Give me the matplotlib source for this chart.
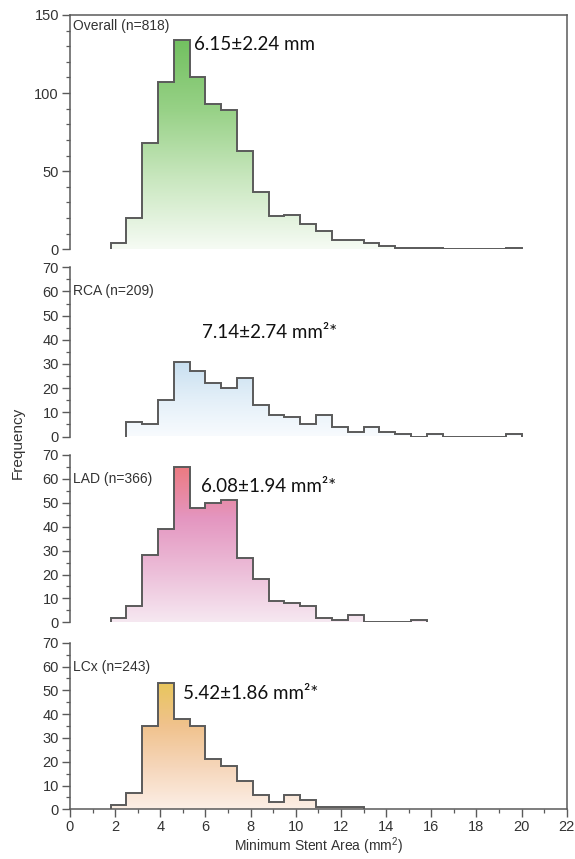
import numpy as np
import matplotlib.pyplot as plt
from matplotlib.colors import LinearSegmentedColormap
from matplotlib.lines import Line2D
from matplotlib.ticker import MultipleLocator

# Minimum stent area histograms (0.7 mm^2 bins)
bin_width = 0.7

overall_start = 1.8
overall_counts = [4, 20, 68, 107, 134, 110, 93, 89, 63, 37, 21, 22, 16,
                  12, 6, 6, 4, 2, 1, 1, 1, 0, 0, 0, 0, 1]

rca_start = 2.5
rca_counts = [6, 5, 15, 31, 27, 22, 20, 24, 13, 9, 8, 5, 9,
              4, 2, 4, 2, 1, 0, 1, 0, 0, 0, 0, 1]

lad_start = 1.8
lad_counts = [2, 7, 28, 39, 65, 48, 50, 51, 27, 18, 9, 8, 7,
              2, 1, 3, 0, 0, 0, 1]

lcx_start = 1.8
lcx_counts = [2, 7, 35, 53, 38, 35, 21, 18, 12, 6, 3, 6, 4, 1, 1, 1]

panel_names = ["Overall (n=818)", "RCA (n=209)", "LAD (n=366)", "LCx (n=243)"]
panel_stats = ["6.15\u00b12.24 mm", "7.14\u00b12.74 mm\u00b2*",
               "6.08\u00b11.94 mm\u00b2*", "5.42\u00b11.86 mm\u00b2*"]

plt.rcParams['font.family'] = ['Liberation Sans', 'DejaVu Sans']
plt.rcParams['mathtext.default'] = 'regular'

W, H = 575, 859
fig = plt.figure(figsize=(W / 100, H / 100), dpi=100)

x_left, x_right = 70, 566.7
# (top pixel, zero pixel, y max, major step, minor step)
layout = [
    (15.0, 249.3, 150, 50, 10),
    (267.3, 436.5, 70, 10, 5),
    (455.0, 622.3, 70, 10, 5),
    (642.7, 809.3, 70, 10, 5),
]
# stat text placement: (x, y) in data units
stat_pos = [(5.5, 131), (5.85, 43), (5.8, 57), (5.0, 48.5)]

gradients = [
    ['#f6fbf4', '#c9e7bf', '#97d186', '#72c060'],
    ['#f8fbfe', '#e3eff8', '#c8dff0'],
    ['#f6e8f1', '#ecbdd8', '#e496c0', '#ec7a80'],
    ['#fcefe6', '#f6d6ba', '#f0c28c', '#e8c65c'],
]

series = [
    (overall_start, overall_counts),
    (rca_start, rca_counts),
    (lad_start, lad_counts),
    (lcx_start, lcx_counts),
]

line_col = '#5a5a5a'
text_col = '#333333'

axes = []
for i, ((top, zero, ymax, major, minor), (start, counts)) in enumerate(zip(layout, series)):
    ax = fig.add_axes([x_left / W, 1 - zero / H, (x_right - x_left) / W, (zero - top) / H])
    axes.append(ax)
    counts = np.asarray(counts, dtype=float)
    edges = start + bin_width * np.arange(len(counts) + 1)

    # gradient fill clipped to the histogram outline
    cmap = LinearSegmentedColormap.from_list(f'grad{i}', gradients[i])
    peak = counts.max()
    grad = np.linspace(0, 1, 256).reshape(-1, 1)
    im = ax.imshow(grad, cmap=cmap, origin='lower', aspect='auto',
                   extent=[edges[0], edges[-1], 0, peak], zorder=1)
    clip = ax.stairs(counts, edges, fill=True, facecolor='none',
                     edgecolor='none', linewidth=0)
    im.set_clip_path(clip)
    ax.stairs(counts, edges, baseline=0, color=line_col, linewidth=1.4, zorder=3)

    ax.set_xlim(0, 22)
    ax.set_ylim(0, ymax)
    ax.yaxis.set_major_locator(MultipleLocator(major))
    ax.yaxis.set_minor_locator(MultipleLocator(minor))
    ax.tick_params(axis='y', which='major', direction='out', length=6, width=1.0,
                   color=line_col, labelsize=10.5, labelcolor=text_col, pad=2)
    ax.tick_params(axis='y', which='minor', direction='out', length=3, width=0.9,
                   color=line_col)

    for side in ['top', 'right', 'bottom']:
        ax.spines[side].set_visible(False)
    ax.spines['left'].set_color(line_col)
    ax.spines['left'].set_linewidth(1.1)

    if i == 0:
        ax.spines['top'].set_visible(True)
        ax.spines['top'].set_color(line_col)
        ax.spines['top'].set_linewidth(1.1)
        ax.text(0.12, 143, panel_names[i], fontsize=10, color=text_col,
                ha='left', va='center')
    else:
        ax.text(0.12, 60, panel_names[i], fontsize=10, color=text_col,
                ha='left', va='center')

    ax.text(stat_pos[i][0], stat_pos[i][1], panel_stats[i], family=['Lato', 'DejaVu Sans'],
            fontsize=13.5, color='#111111', ha='left', va='center')

    if i < 3:
        ax.set_xticks([])
    else:
        ax.spines['bottom'].set_visible(True)
        ax.spines['bottom'].set_color(line_col)
        ax.spines['bottom'].set_linewidth(1.1)
        ax.xaxis.set_major_locator(MultipleLocator(2))
        ax.xaxis.set_minor_locator(MultipleLocator(1))
        ax.tick_params(axis='x', which='major', direction='out', length=6, width=1.0,
                       color=line_col, labelsize=10.5, labelcolor=text_col, pad=2)
        ax.tick_params(axis='x', which='minor', direction='out', length=3, width=0.9,
                       color=line_col)
        ax.set_xlabel('Minimum Stent Area (mm$^{2}$)', fontsize=10, color=text_col,
                      labelpad=1)

# continuous right border across all panels
fig.add_artist(Line2D([x_right / W, x_right / W], [1 - layout[0][0] / H, 1 - layout[3][1] / H],
                      transform=fig.transFigure, color=line_col, linewidth=1.1))

fig.text(18 / W, 1 - 443 / H, 'Frequency', rotation=90, fontsize=11, color=text_col,
         ha='center', va='center')

fig.savefig('out.png', dpi=100, facecolor='white')
